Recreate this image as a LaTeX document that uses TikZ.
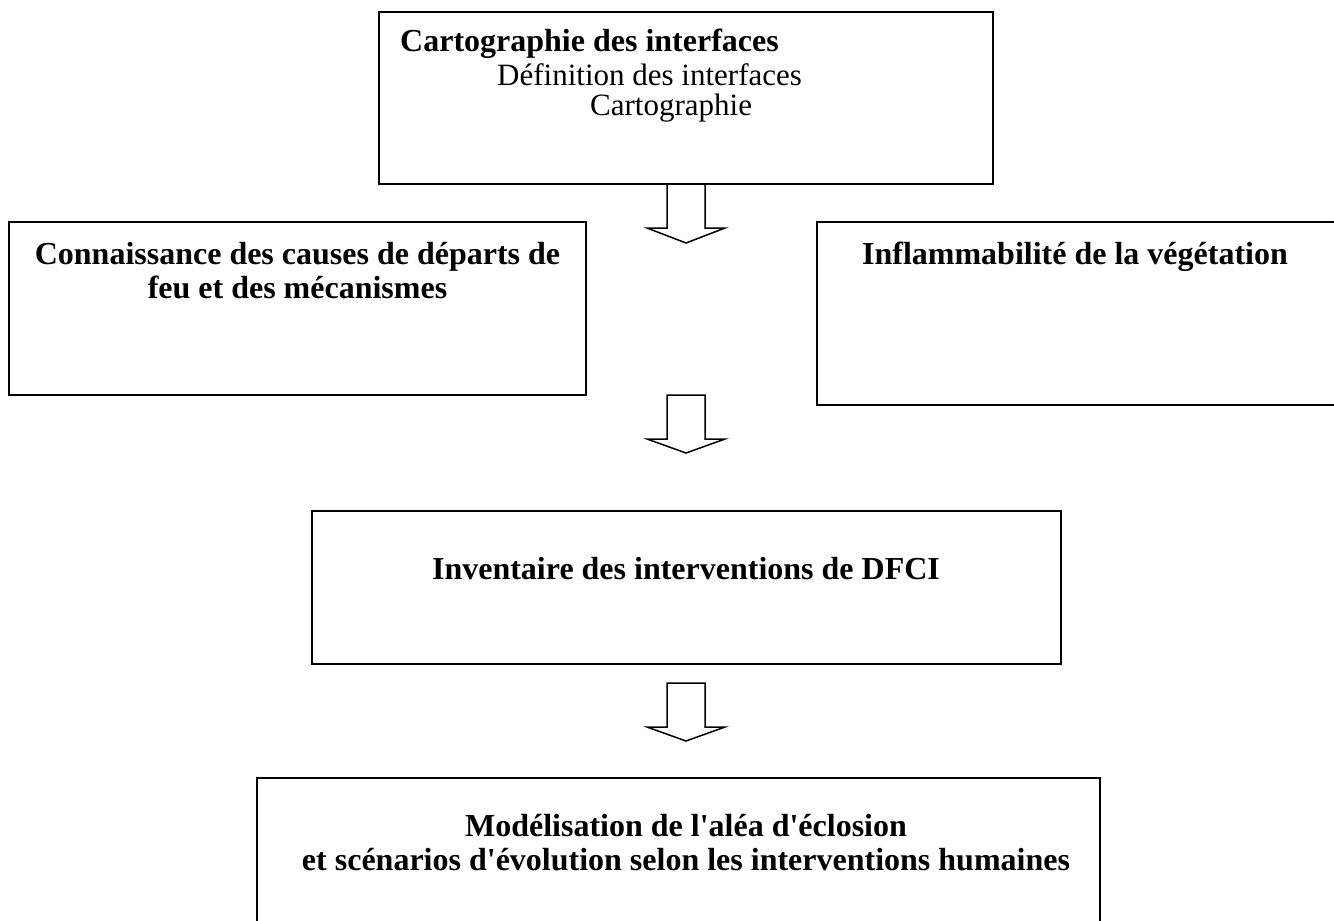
\documentclass[tikz,border=0pt]{standalone}
\usepackage{fontspec}
\setmainfont{Liberation Serif}[Ligatures=TeXOff]
\usepackage{tikz}
\usetikzlibrary{positioning, calc}

\begin{document}
\begin{tikzpicture}[x=1pt, y=-1pt,
	box/.style={rectangle, draw=black, line width=2pt, inner sep=0pt},
	label/.style={inner sep=0pt, font=\fontsize{32}{34}\selectfont\bfseries},
	plain/.style={inner sep=0pt, font=\fontsize{31}{34}\selectfont},
	blockarrow/.style={draw=black, line width=1.5pt, fill=white, line join=miter}]
			
			\useasboundingbox (0,0) rectangle (1334,921);
			
			% Boxes
			
			\node[box, minimum width=614, minimum height=172] (carto) at (686,98) {};
			
			\node[box, minimum width=577, minimum height=173] (causes) at (297.5,308.5) {};
			
			\node[box, minimum width=530, minimum height=183] (inflam) at (1082,313.5) {};
			
			\node[box, minimum width=749, minimum height=153] (dfci) at (686.5,587.5) {};
			
			\node[box, minimum width=843, minimum height=160] (model) at (678.5,858) {};
			
			
			% Texts
			
			\node[label, anchor=base west] (cartoTitle) at (400,51) {Cartographie des interfaces};
			\node[plain, anchor=base west] (cartoDef) at (497,85) {Définition des interfaces};
			\node[plain, anchor=base west] (cartoMap) at (590,115) {Cartographie};
			
			\node[label, anchor=base] (causesText1) at (297.5,264) {Connaissance des causes de départs de};
			\node[label, anchor=base] (causesText2) at (297.5,298) {feu et des mécanismes};
			
			\node[label, anchor=base] (inflamText) at (1075,264) {Inflammabilité de la végétation};
			
			\node[label, anchor=base] (dfciText) at (686,579) {Inventaire des interventions de DFCI};
			
			\node[label, anchor=base] (modelText1) at (686,836) {Modélisation de l'aléa d'éclosion};
			\node[label, anchor=base] (modelText2) at (686,870) {et scénarios d'évolution selon les interventions humaines};
			
			
			% Arrows
			
			\coordinate (arrow1) at (carto.south);
			\coordinate (arrow2) at (686,395);
			\coordinate (arrow3) at (686,683);
			
			\draw[blockarrow] ($(arrow1)+(-19,0)$) -- ++(0,43) -- ++(-20,0) -- ($(arrow1)+(0,58)$)
				-- ($(arrow1)+(39,43)$) -- ++(-20,0) -- ($(arrow1)+(19,0)$);
			
			\draw[blockarrow] ($(arrow2)+(-19,0)$) -- ++(0,44) -- ++(-20,0) -- ($(arrow2)+(0,58)$)
				-- ($(arrow2)+(39,44)$) -- ++(-20,0) -- ($(arrow2)+(19,0)$) -- cycle;
			
			\draw[blockarrow] ($(arrow3)+(-19,0)$) -- ++(0,44) -- ++(-20,0) -- ($(arrow3)+(0,58)$)
				-- ($(arrow3)+(39,44)$) -- ++(-20,0) -- ($(arrow3)+(19,0)$) -- cycle;
			
		\end{tikzpicture}
\end{document}
